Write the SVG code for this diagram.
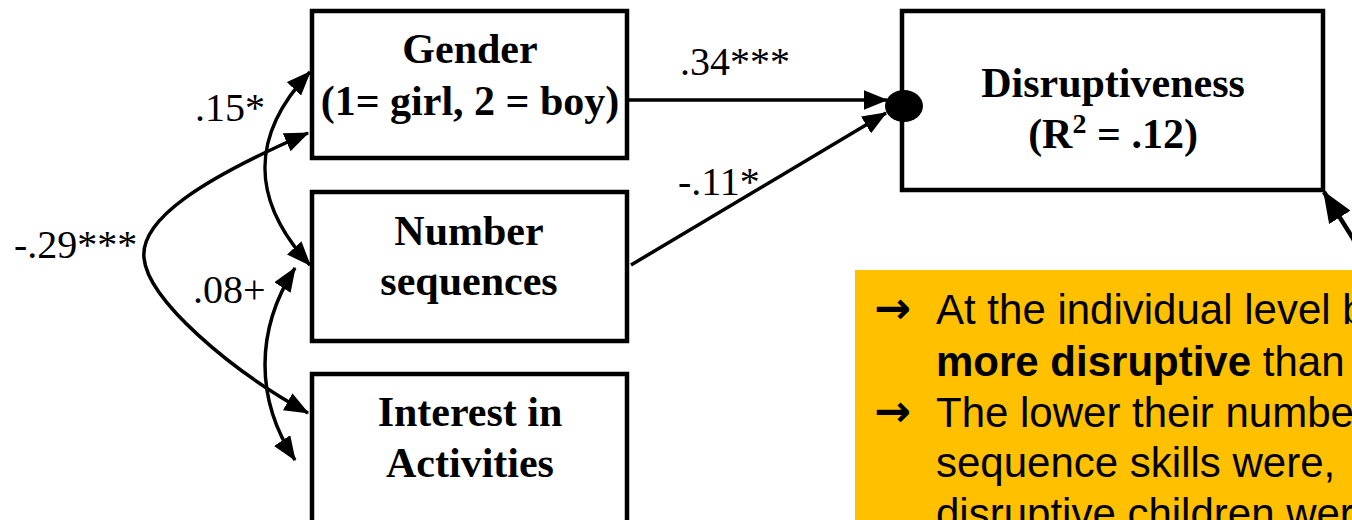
<svg xmlns="http://www.w3.org/2000/svg" width="1352" height="520" viewBox="0 0 1352 520">
  <style>
    .box { fill: #ffffff; stroke: #000000; stroke-width: 4.5; }
    .node-text { font-family: "Liberation Serif", "Times New Roman", serif; font-weight: bold; font-size: 42px; fill: #000000; text-anchor: middle; }
    .coef { font-family: "Liberation Serif", "Times New Roman", serif; font-size: 40px; fill: #000000; }
    .conn { fill: none; stroke: #000000; stroke-width: 3.5; }
    .note { font-family: "Liberation Sans", Arial, sans-serif; font-size: 42px; fill: #000000; }
    .bullet { font-family: "DejaVu Sans", sans-serif; font-weight: bold; font-size: 44px; fill: #000000; }
  </style>
  <defs>
    <marker id="head" viewBox="0 0 10 8" refX="9.5" refY="4" markerWidth="7" markerHeight="5.6" orient="auto-start-reverse" markerUnits="strokeWidth">
      <path d="M0,0 L10,4 L0,8 z" fill="#000000"/>
    </marker>
  </defs>

  <rect width="1352" height="520" fill="#ffffff"/>

  <!-- predictor and outcome boxes -->
  <g id="node-gender">
    <rect class="box" x="312" y="11" width="315" height="147"/>
    <text class="node-text" x="470" y="63">Gender</text>
    <text class="node-text" x="470" y="115">(1= girl, 2 = boy)</text>
  </g>
  <g id="node-number-sequences">
    <rect class="box" x="312" y="192" width="315" height="149"/>
    <text class="node-text" x="469" y="245">Number</text>
    <text class="node-text" x="469" y="295">sequences</text>
  </g>
  <g id="node-interest">
    <rect class="box" x="312" y="374" width="315" height="200"/>
    <text class="node-text" x="470" y="426">Interest in</text>
    <text class="node-text" x="470" y="477">Activities</text>
  </g>
  <g id="node-disruptiveness">
    <rect class="box" x="902" y="11" width="421" height="179"/>
    <text class="node-text" x="1113" y="97">Disruptiveness</text>
    <text class="node-text" x="1113" y="148">(R<tspan font-size="28" dy="-15">2</tspan><tspan dy="15"> = .12)</tspan></text>
    <ellipse cx="904" cy="106" rx="19" ry="16" fill="#000000"/>
  </g>

  <!-- paths, correlations and coefficients -->
  <g id="connectors">
    <path class="conn" marker-end="url(#head)" d="M629,100 L887,100"/>
    <path class="conn" marker-end="url(#head)" d="M631,265 L886,113"/>
    <path class="conn" marker-start="url(#head)" marker-end="url(#head)" d="M310,72 C250,135 250,200 310,265"/>
    <path class="conn" marker-start="url(#head)" marker-end="url(#head)" d="M295,268 C255,330 255,400 295,460"/>
    <path class="conn" marker-start="url(#head)" marker-end="url(#head)" d="M308,133 C200,180 140,220 144,258 C148,300 230,370 308,413"/>
    <path class="conn" style="stroke-width:4.5" marker-end="url(#head)" d="M1362,253 L1324,192"/>
    <text class="coef" x="680" y="75">.34***</text>
    <text class="coef" x="678" y="195">-.11*</text>
    <text class="coef" x="195" y="121">.15*</text>
    <text class="coef" x="14" y="258">-.29***</text>
    <text class="coef" x="193" y="303">.08+</text>
  </g>

  <!-- highlighted summary -->
  <rect x="855" y="270" width="497" height="250" fill="#ffc000"/>
  <text class="bullet" x="874" y="323">→</text>
  <text class="note" x="936" y="324">At the individual level b</text>
  <text class="note" x="936" y="376"><tspan font-weight="bold">more disruptive</tspan> than</text>
  <text class="bullet" x="874" y="426">→</text>
  <text class="note" x="936" y="427">The lower their number</text>
  <text class="note" x="936" y="477">sequence skills were,</text>
  <text class="note" x="936" y="528">disruptive children were</text>
</svg>
